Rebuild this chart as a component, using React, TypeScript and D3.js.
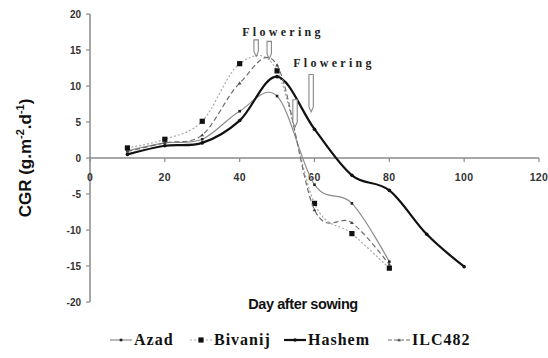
import React, { useEffect, useRef } from 'react';
import * as d3 from 'd3';

// days after sowing
const days = [10, 20, 30, 40, 50, 60, 70, 80];
const hashemDays = [10, 20, 30, 40, 50, 60, 70, 80, 90, 100];

// CGR values (g.m-2.d-1)
const azad = [1.0, 2.1, 2.6, 6.5, 8.6, -3.7, -6.3, -14.4];
const bivanij = [1.4, 2.6, 5.1, 13.1, 12.1, -6.3, -10.5, -15.3];
const hashem = [0.5, 1.7, 2.1, 5.2, 11.3, 4.0, -2.4, -4.5, -10.6, -15.1];
const ilc482 = [0.9, 2.1, 3.2, 10.4, 12.9, -7.2, -9.0, -14.8];

const xTicks = [0, 20, 40, 60, 80, 100, 120];
const yTicks = [-20, -15, -10, -5, 0, 5, 10, 15, 20];

// flowering arrows: x position (day), top and tip (CGR)
const arrowDay = [44.4, 47.9, 54.8, 59.1];
const arrowTop = [16.4, 16.2, 8.1, 11.6];
const arrowTip = [14.1, 13.8, 4.3, 6.4];

const App = () => {
  const svgRef = useRef<SVGSVGElement>(null);

  useEffect(() => {
    const width = 548;
    const height = 358;
    const svg = d3.select(svgRef.current)
      .attr('width', width)
      .attr('height', height)
      .style('position', 'absolute')
      .style('left', '0px')
      .style('top', '0px')
      .style('background', '#fff');

    svg.selectAll('*').remove();

    const x = d3.scaleLinear().domain([0, 120]).range([90, 539]);
    const y = d3.scaleLinear().domain([-20, 20]).range([302, 14]);

    const axisColor = '#8a8a8a';
    const tickFont = 'Liberation Sans, Arial, sans-serif';

    // y axis
    svg.append('line')
      .attr('x1', x(0)).attr('x2', x(0))
      .attr('y1', y(20)).attr('y2', y(-20))
      .attr('stroke', axisColor).attr('stroke-width', 1.5);
    yTicks.forEach(t => {
      svg.append('line')
        .attr('x1', x(0) - 4).attr('x2', x(0))
        .attr('y1', y(t)).attr('y2', y(t))
        .attr('stroke', axisColor).attr('stroke-width', 1.2);
      svg.append('text')
        .attr('x', x(0) - 9).attr('y', y(t) + 3.5)
        .attr('text-anchor', 'end')
        .attr('font-family', tickFont).attr('font-weight', 'bold')
        .attr('font-size', 10).attr('fill', '#333')
        .text(t);
    });

    // x axis at zero
    svg.append('line')
      .attr('x1', x(0)).attr('x2', x(120))
      .attr('y1', y(0)).attr('y2', y(0))
      .attr('stroke', axisColor).attr('stroke-width', 1.5);
    xTicks.forEach(t => {
      svg.append('line')
        .attr('x1', x(t)).attr('x2', x(t))
        .attr('y1', y(0)).attr('y2', y(0) + 4)
        .attr('stroke', axisColor).attr('stroke-width', 1.2);
      svg.append('text')
        .attr('x', x(t)).attr('y', y(0) + 23)
        .attr('text-anchor', 'middle')
        .attr('font-family', tickFont).attr('font-weight', 'bold')
        .attr('font-size', 10.5).attr('letter-spacing', 0.4).attr('fill', '#333')
        .text(t);
    });

    // axis titles
    svg.append('text')
      .attr('x', 303).attr('y', 309)
      .attr('text-anchor', 'middle')
      .attr('font-family', tickFont).attr('font-weight', 'bold')
      .attr('font-size', 14.5).attr('letter-spacing', -0.4).attr('fill', '#111')
      .text('Day after sowing');

    const yTitle = svg.append('text')
      .attr('transform', 'translate(31,158) rotate(-90)')
      .attr('text-anchor', 'middle')
      .attr('font-family', tickFont).attr('font-weight', 'bold')
      .attr('font-size', 17).attr('fill', '#111');
    yTitle.append('tspan').text('CGR (g.m');
    yTitle.append('tspan').attr('dy', -7).attr('font-size', 11).text('-2');
    yTitle.append('tspan').attr('dy', 7).text('.d');
    yTitle.append('tspan').attr('dy', -7).attr('font-size', 11).text('-1');
    yTitle.append('tspan').attr('dy', 7).text(')');

    const series = [
      { name: 'Azad', xs: days, ys: azad, color: '#8c8c8c', width: 1.2, dash: null, marker: 'bar' },
      { name: 'Bivanij', xs: days, ys: bivanij, color: '#a8a8a8', width: 1.2, dash: '2,2', marker: 'square' },
      { name: 'Hashem', xs: hashemDays, ys: hashem, color: '#111', width: 2.2, dash: null, marker: 'dot' },
      { name: 'ILC482', xs: days, ys: ilc482, color: '#6e6e6e', width: 1.2, dash: '5,3', marker: 'tick' },
    ];

    const line = d3.line<[number, number]>()
      .x(d => x(d[0]))
      .y(d => y(d[1]))
      .curve(d3.curveCardinal.tension(0));

    const drawMarker = (g: any, kind: string, cx: number, cy: number) => {
      if (kind === 'square') {
        g.append('rect').attr('x', cx - 2.6).attr('y', cy - 2.6)
          .attr('width', 5.2).attr('height', 5.2).attr('fill', '#111');
      } else if (kind === 'dot') {
        g.append('circle').attr('cx', cx).attr('cy', cy).attr('r', 1.8).attr('fill', '#111');
      } else if (kind === 'bar') {
        g.append('rect').attr('x', cx - 1.3).attr('y', cy - 1.3)
          .attr('width', 2.6).attr('height', 2.6).attr('fill', '#222');
      } else {
        g.append('path').attr('d', `M${cx - 1.8},${cy + 1.3}L${cx},${cy - 1.8}L${cx + 1.8},${cy + 1.3}Z`)
          .attr('fill', '#444');
      }
    };

    series.forEach(s => {
      const pts = s.xs.map((d, i) => [d, s.ys[i]] as [number, number]);
      const path = svg.append('path')
        .attr('d', line(pts))
        .attr('fill', 'none')
        .attr('stroke', s.color)
        .attr('stroke-width', s.width);
      if (s.dash) path.attr('stroke-dasharray', s.dash);
      const g = svg.append('g');
      pts.forEach(p => drawMarker(g, s.marker, x(p[0]), y(p[1])));
    });

    // flowering arrows
    arrowDay.forEach((d, i) => {
      const cx = x(d);
      const top = y(arrowTop[i]);
      const tip = y(arrowTip[i]);
      const head = 5;
      svg.append('path')
        .attr('d', `M${cx - 2.2},${top}L${cx + 2.2},${top}L${cx + 2.2},${tip - head}L${cx},${tip}L${cx - 2.2},${tip - head}Z`)
        .attr('fill', '#fff')
        .attr('stroke', '#888')
        .attr('stroke-width', 1.1);
    });

    const flowerFont = 'Liberation Serif, Times New Roman, serif';
    svg.append('text')
      .attr('x', 283).attr('y', 36)
      .attr('text-anchor', 'middle')
      .attr('font-family', flowerFont).attr('font-weight', 'bold')
      .attr('font-size', 12).attr('letter-spacing', 3.3).attr('fill', '#222')
      .text('Flowering');
    svg.append('text')
      .attr('x', 334).attr('y', 67)
      .attr('text-anchor', 'middle')
      .attr('font-family', flowerFont).attr('font-weight', 'bold')
      .attr('font-size', 12).attr('letter-spacing', 3.3).attr('fill', '#222')
      .text('Flowering');

    // legend
    const legendX = [110, 190, 284, 388];
    series.forEach((s, i) => {
      const lx = legendX[i];
      const ly = 340;
      const l = svg.append('line')
        .attr('x1', lx).attr('x2', lx + 22)
        .attr('y1', ly).attr('y2', ly)
        .attr('stroke', s.color).attr('stroke-width', s.width);
      if (s.dash) l.attr('stroke-dasharray', s.marker === 'tick' ? '4,2' : '2,2');
      const g = svg.append('g');
      drawMarker(g, s.marker, lx + 11, ly);
      svg.append('text')
        .attr('x', lx + 24).attr('y', ly + 5)
        .attr('font-family', flowerFont).attr('font-weight', 'bold')
        .attr('font-size', 16).attr('letter-spacing', 1).attr('fill', '#111')
        .text(s.name);
    });
  }, []);

  return <svg ref={svgRef}></svg>;
};

export default App;
